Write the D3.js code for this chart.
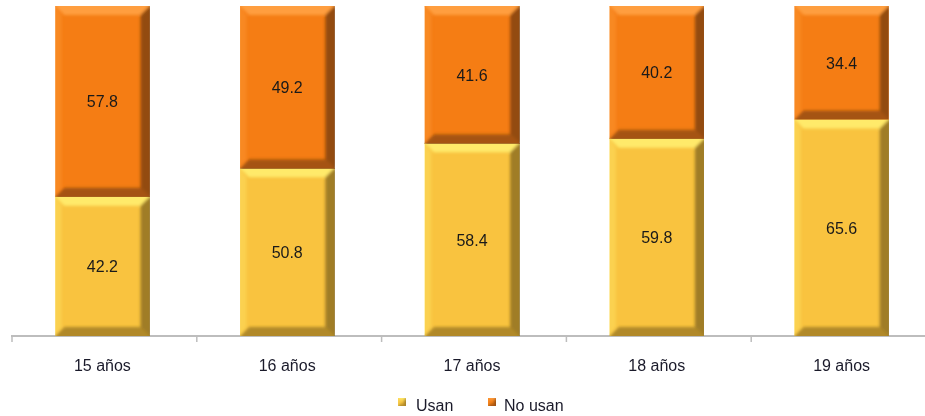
<!DOCTYPE html>
<html>
<head>
<meta charset="utf-8">
<script src="https://cdn.jsdelivr.net/npm/d3@7"></script>
<style>
  body { margin: 0; background: #fff; }
  svg { display: block; font-family: "Liberation Sans", Arial, sans-serif; }
</style>
</head>
<body>
<svg id="chart" width="925" height="416"></svg>
<script>
// Share of adolescents by age (percent)
const categories = ["15 años", "16 años", "17 años", "18 años", "19 años"];
const usan = [42.2, 50.8, 58.4, 59.8, 65.6];
const noUsan = [57.8, 49.2, 41.6, 40.2, 34.4];
const seriesNames = ["Usan", "No usan"];
const seriesColors = ["#F9C33F", "#F57D14"];
const seriesLight = ["#FFEC6E", "#FFA040"];
const seriesDark = ["#8A6A1E", "#7A3E0A"];

const svg = d3.select("#chart");
const x = d3.scaleBand().domain(categories).range([10, 934]).paddingInner(0.49).paddingOuter(0.245);
const y = d3.scaleLinear().domain([0, 100]).range([336, 6]);

const defs = svg.append("defs");
defs.append("filter").attr("id", "soft").attr("x", "-20%").attr("y", "-20%").attr("width", "140%").attr("height", "140%")
  .append("feGaussianBlur").attr("stdDeviation", 1.8);

const rows = categories.map((c, i) => ({ cat: c, vals: [usan[i], noUsan[i]] }));
const stacked = d3.stack().keys([0, 1]).value((d, k) => d.vals[k])(rows);

// Axis line and category dividers
const axisY = 336;
svg.append("line").attr("x1", 11).attr("x2", 925).attr("y1", axisY).attr("y2", axisY)
  .attr("stroke", "#bdbdbd").attr("stroke-width", 2);
d3.range(0, categories.length + 1).forEach(i => {
  const tx = 12 + i * x.step();
  svg.append("line").attr("x1", tx).attr("x2", tx).attr("y1", axisY).attr("y2", axisY + 6)
    .attr("stroke", "#bdbdbd").attr("stroke-width", 1.5);
});

function bevelBox(g, x0, y0, w, h, k, clipId, b) {
  defs.append("clipPath").attr("id", clipId).append("rect")
    .attr("x", x0).attr("y", y0).attr("width", w).attr("height", h);
  g.append("rect").attr("x", x0).attr("y", y0).attr("width", w).attr("height", h)
    .attr("fill", seriesColors[k]);
  const bev = g.append("g").attr("clip-path", `url(#${clipId})`)
    .append("g").attr("filter", "url(#soft)");
  const x1 = x0 + w, y1 = y0 + h;
  // top highlight
  bev.append("path").attr("d", `M${x0-3},${y0-3}L${x1+3},${y0-3}L${x1-b},${y0+b}L${x0+b},${y0+b}Z`)
    .attr("fill", seriesLight[k]).attr("opacity", 0.95);
  // left face
  bev.append("path").attr("d", `M${x0-3},${y0-3}L${x0+b*0.7},${y0+b}L${x0+b*0.7},${y1-b}L${x0-3},${y1+3}Z`)
    .attr("fill", seriesLight[k]).attr("opacity", 0.35);
  // right shade
  bev.append("path").attr("d", `M${x1+3},${y0-3}L${x1-b},${y0+b}L${x1-b},${y1-b}L${x1+3},${y1+3}Z`)
    .attr("fill", seriesDark[k]).attr("opacity", 0.8);
  // bottom shade
  bev.append("path").attr("d", `M${x0-3},${y1+3}L${x0+b},${y1-b}L${x1-b},${y1-b}L${x1+3},${y1+3}Z`)
    .attr("fill", seriesDark[k]).attr("opacity", 0.65);
}

stacked.forEach((layer, k) => {
  layer.forEach((d, i) => {
    const g = svg.append("g");
    const x0 = x(categories[i]);
    const top = y(d[1]), bot = y(d[0]);
    bevelBox(g, x0, top, x.bandwidth(), bot - top, k, `clip-${k}-${i}`, 9);
    g.append("text")
      .attr("x", x0 + x.bandwidth() / 2)
      .attr("y", (top + bot) / 2 + 6)
      .attr("text-anchor", "middle")
      .attr("font-size", 16)
      .attr("fill", "#1a1a1a")
      .text(d3.format(".1f")(rows[i].vals[k]));
  });
});

// Category labels
svg.selectAll("text.cat").data(categories).enter().append("text")
  .attr("class", "cat")
  .attr("x", d => x(d) + x.bandwidth() / 2)
  .attr("y", 371)
  .attr("text-anchor", "middle")
  .attr("font-size", 16)
  .attr("fill", "#1a1a2a")
  .text(d => d);

// Legend
const legendItems = [{ k: 0, lx: 398, tx: 416 }, { k: 1, lx: 488, tx: 504 }];
legendItems.forEach(it => {
  const g = svg.append("g");
  bevelBox(g, it.lx, 398, 8, 8, it.k, `clip-leg-${it.k}`, 2);
  g.append("text").attr("x", it.tx).attr("y", 411).attr("font-size", 16)
    .attr("fill", "#1a1a2a").text(seriesNames[it.k]);
});
</script>
</body>
</html>
